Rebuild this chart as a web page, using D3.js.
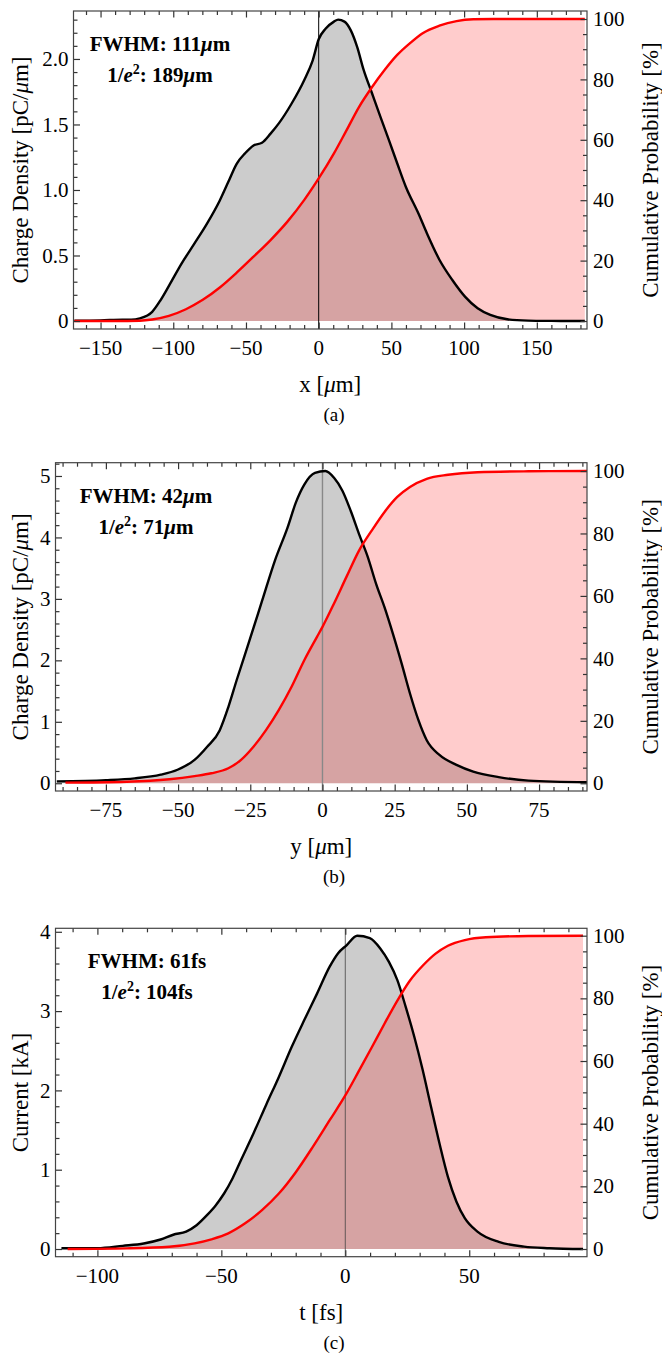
<!DOCTYPE html>
<html><head><meta charset="utf-8">
<script src="https://cdn.jsdelivr.net/npm/d3@7"></script>
<style>body{margin:0;background:#fff;} svg text{font-family:"Liberation Serif","Times New Roman",Times,serif;}</style>
</head><body>
<svg id="chart" width="662" height="1355" font-family="Liberation Serif, Times New Roman, serif"></svg>
<script>
// ---------- DATA ----------
// Panel (a): x [µm]
const aDensX = [-168,-150,-135,-129,-123,-114.5,-108.7,-102.9,-94.2,-85.5,-76.7,-68,-62.2,-56.4,-50.6,-44.8,-39,-33.1,-27.3,-18.6,-9.9,-4.1,0,4.7,10.5,13.4,17.7,22,26.5,30.8,36.6,42.4,48.3,54.1,59.9,68.6,74.4,83.1,91.9,100.6,109.3,118,129.7,144,160,183];
const aDensY = [0.003,0.005,0.01,0.01,0.02,0.07,0.16,0.27,0.44,0.59,0.745,0.92,1.06,1.20,1.28,1.34,1.36,1.43,1.51,1.66,1.84,1.99,2.15,2.23,2.285,2.30,2.285,2.22,2.09,1.92,1.74,1.56,1.38,1.20,1.025,0.82,0.67,0.466,0.313,0.186,0.097,0.046,0.013,0.003,0.001,0];
const aCdfX = [-168,-140,-123,-114.5,-103,-91.3,-79.7,-68,-56.4,-44.8,-33.1,-21.5,-9.9,0,10.5,19.2,27.9,36.6,45.3,54,62.8,71.5,83,94.8,106.4,120,183];
const aCdfY = [0,0,0.1,0.5,1.7,3.9,7.0,11.1,16.0,21.3,26.8,32.9,40.1,47.2,55.5,63.2,71,77.4,83.1,88.1,92,95.3,97.8,99.3,99.9,100,100];
const aXTicks = [-150,-100,-50,0,50,100,150];
const aXTickLabels = ["\u2212150","\u2212100","\u221250","0","50","100","150"];
const aYTicks = [0,0.5,1,1.5,2];
const aYTickLabels = ["0","0.5","1.0","1.5","2.0"];

// Panel (b): y [µm]
const bDensX = [-92,-75,-65,-56,-50.2,-44.3,-40,-35.6,-32.6,-29.7,-25.3,-20.9,-16.5,-12.1,-9.2,-6.3,-2.6,1,4,6.9,9.8,12.7,15.7,18.6,21.5,24.4,27.4,30.3,33.2,36.1,40.5,46.4,52.2,61,71.3,91.6];
const bDensY = [0.03,0.05,0.08,0.14,0.22,0.38,0.59,0.86,1.24,1.68,2.32,2.97,3.62,4.16,4.57,4.86,5.05,5.08,4.97,4.76,4.43,4.05,3.68,3.24,2.86,2.43,1.95,1.46,1.03,0.70,0.46,0.30,0.19,0.10,0.043,0.016];
const bCdfX = [-89,-67.8,-53,-44.3,-38.5,-32.6,-28.2,-23.9,-19.5,-15.1,-10.7,-6.3,-1.9,0,4,8.3,12.7,17.1,21.5,25.9,30.3,36.1,43.5,53.7,71.3,91.6];
const bCdfY = [0.2,0.5,1.3,2.3,3.2,4.8,7.5,11.7,17.1,23.5,30.9,39.4,46.9,50.1,57.6,66.1,74.6,81,86.9,91.7,94.9,97.5,98.8,99.6,99.9,100];
const bXTicks = [-75,-50,-25,0,25,50,75];
const bXTickLabels = ["\u221275","\u221250","\u221225","0","25","50","75"];
const bYTicks = [0,1,2,3,4,5];
const bYTickLabels = ["0","1","2","3","4","5"];

// Panel (c): t [fs]
const cDensX = [-114.5,-100,-89.8,-81.3,-74.5,-69.4,-64.2,-60,-55.7,-52.3,-48.9,-45.5,-42.1,-37,-31.9,-26.8,-21.6,-16.5,-11.4,-6.3,-2.9,0.5,4.8,9.9,14.1,17.6,21,24.4,27.8,31.2,34.6,38,41.4,44.8,48.2,53.3,61.9,72.1,82.3,95.9];
const cDensY = [0.01,0.01,0.04,0.07,0.12,0.18,0.22,0.30,0.43,0.55,0.70,0.89,1.12,1.46,1.82,2.17,2.55,2.89,3.22,3.56,3.73,3.83,3.95,3.92,3.79,3.62,3.39,3.05,2.68,2.26,1.79,1.33,0.91,0.60,0.39,0.22,0.09,0.03,0.01,0];
const cCdfX = [-112,-88,-71,-60.8,-54,-47.2,-40.4,-33.6,-26.8,-19.9,-13.1,-6.3,0,5.6,10.7,15.8,21,26.1,31.2,36.3,41.4,48.2,56.7,73.8,95.9];
const cCdfY = [0,0.2,0.7,1.8,3.1,5,8.2,12.4,17.7,24.6,32.6,41.1,49,57,64.4,71.9,79.3,85.7,90.4,94.2,96.8,98.6,99.5,99.9,100];
const cXTicks = [-100,-50,0,50];
const cXTickLabels = ["\u2212100","\u221250","0","50"];
const cYTicks = [0,1,2,3,4];
const cYTickLabels = ["0","1","2","3","4"];

// Shared right axis
const pTicks = [0,20,40,60,80,100];
const pTickLabels = ["0","20","40","60","80","100"];

// ---------- DRAW ----------
const svg = d3.select("#chart");
const FRAME = "#444";
const MAJ = 6.5, MIN = 4;

function rng(a,b,step){const out=[];for(let v=a;v<=b+1e-9;v+=step)out.push(+v.toFixed(6));return out;}
function styleAxis(sel){
  sel.select(".domain").remove();
  sel.selectAll(".tick line").attr("stroke","#333").attr("stroke-width",1.2);
  sel.selectAll(".tick text").remove();
}

function panel(o){
  const g = svg.append("g");
  const x = d3.scaleLinear().domain(o.xDom).range([o.L,o.R]);
  const y = d3.scaleLinear().domain(o.yDom).range([o.B,o.T]);
  const y2 = d3.scaleLinear().domain(o.pDom).range([o.B,o.T]);
  const cid = "clip"+o.id;
  svg.append("clipPath").attr("id",cid).append("rect")
     .attr("x",o.L).attr("y",o.T).attr("width",o.R-o.L).attr("height",o.B-o.T);
  const pg = g.append("g").attr("clip-path",`url(#${cid})`);
  const dens = o.dx.map((v,i)=>[v,o.dy[i]]);
  const cdf = o.cx.map((v,i)=>[v,o.cy[i]]);
  const curve = d3.curveMonotoneX;
  pg.append("path").datum(dens)
    .attr("d", d3.area().curve(curve).x(d=>x(d[0])).y0(y(0)).y1(d=>y(d[1])))
    .attr("fill","#000").attr("fill-opacity",0.2);
  pg.append("path").datum(cdf)
    .attr("d", d3.area().curve(curve).x(d=>x(d[0])).y0(y2(0)).y1(d=>y2(d[1])))
    .attr("fill","#ff0000").attr("fill-opacity",0.2);
  pg.append("line").attr("x1",x(0)).attr("x2",x(0)).attr("y1",o.T).attr("y2",o.B)
    .attr("stroke",o.zeroColor).attr("stroke-width",o.zeroWidth);
  pg.append("path").datum(dens)
    .attr("d", d3.line().curve(curve).x(d=>x(d[0])).y(d=>y(d[1])))
    .attr("fill","none").attr("stroke","#000").attr("stroke-width",2.4).attr("stroke-linejoin","round");
  pg.append("path").datum(cdf)
    .attr("d", d3.line().curve(curve).x(d=>x(d[0])).y(d=>y2(d[1])))
    .attr("fill","none").attr("stroke","#ff0000").attr("stroke-width",2.4).attr("stroke-linejoin","round");

  const inX = v=>v>=o.xDom[0]&&v<=o.xDom[1];
  const xMin = rng(Math.ceil(o.xDom[0]/o.xMinor)*o.xMinor, o.xDom[1], o.xMinor).filter(inX)
                 .filter(v=>!o.xTicks.some(t=>Math.abs(t-v)<1e-6));
  const yMin = rng(0, o.yDom[1], o.yMinor).filter(v=>!o.yTicks.some(t=>Math.abs(t-v)<1e-6));
  const pMin = rng(0, o.pDom[1], 5).filter(v=>!pTicks.some(t=>Math.abs(t-v)<1e-6));
  const ax = g.append("g").attr("class","frameticks");
  [[o.xTicks,MAJ],[xMin,MIN]].forEach(([vals,len])=>{
    ax.append("g").attr("transform",`translate(0,${o.B})`)
      .call(d3.axisBottom(x).tickValues(vals).tickSizeInner(-len).tickSizeOuter(0).tickFormat("")).call(styleAxis);
    ax.append("g").attr("transform",`translate(0,${o.T})`)
      .call(d3.axisTop(x).tickValues(vals).tickSizeInner(-len).tickSizeOuter(0).tickFormat("")).call(styleAxis);
  });
  [[o.yTicks,MAJ],[yMin,MIN]].forEach(([vals,len])=>{
    ax.append("g").attr("transform",`translate(${o.L},0)`)
      .call(d3.axisLeft(y).tickValues(vals).tickSizeInner(-len).tickSizeOuter(0).tickFormat("")).call(styleAxis);
  });
  [[pTicks,MAJ],[pMin,MIN]].forEach(([vals,len])=>{
    ax.append("g").attr("transform",`translate(${o.R},0)`)
      .call(d3.axisRight(y2).tickValues(vals).tickSizeInner(-len).tickSizeOuter(0).tickFormat("")).call(styleAxis);
  });
  g.append("rect").attr("x",o.L).attr("y",o.T).attr("width",o.R-o.L).attr("height",o.B-o.T)
    .attr("fill","none").attr("stroke",FRAME).attr("stroke-width",1.2);

  const FS = 21;
  o.xTicks.forEach((v,i)=>{
    g.append("text").attr("x",x(v)).attr("y",o.B+26).attr("text-anchor","middle")
      .attr("font-size",FS).text(o.xTickLabels[i]);
  });
  o.yTicks.forEach((v,i)=>{
    g.append("text").attr("x",o.L-5).attr("y",y(v)).attr("dy","0.34em").attr("text-anchor","end")
      .attr("font-size",FS).text(o.yTickLabels[i]);
  });
  pTicks.forEach((v,i)=>{
    g.append("text").attr("x",o.R+6).attr("y",y2(v)).attr("dy","0.34em").attr("text-anchor","start")
      .attr("font-size",FS).text(pTickLabels[i]);
  });
  const TS = 23;
  const xt = g.append("text").attr("x",(o.L+o.R)/2).attr("y",o.B+63).attr("text-anchor","middle").attr("font-size",TS);
  o.xTitle.forEach(s=>xt.append("tspan").attr("font-style",s[1]?"italic":"normal").text(s[0]));
  const cy = (o.T+o.B)/2;
  const yt = g.append("text").attr("transform",`translate(28,${cy}) rotate(-90)`).attr("text-anchor","middle").attr("font-size",TS);
  o.yTitle.forEach(s=>yt.append("tspan").attr("font-style",s[1]?"italic":"normal").text(s[0]));
  g.append("text").attr("transform",`translate(658,${cy}) rotate(-90)`).attr("text-anchor","middle")
    .attr("font-size",TS).text("Cumulative Probability [%]");
  g.append("text").attr("x",334).attr("y",o.B+92).attr("text-anchor","middle").attr("font-size",19).text(o.caption);
  const AS = 21;
  const t1 = g.append("text").attr("x",o.annX).attr("y",o.annY).attr("text-anchor","middle")
    .attr("font-size",AS).attr("font-weight","bold");
  t1.append("tspan").text("FWHM: "+o.fwhm);
  if(o.unitMu){t1.append("tspan").attr("font-style","italic").text("\u03bc");t1.append("tspan").text("m");}
  else t1.append("tspan").text("fs");
  const t2 = g.append("text").attr("x",o.annX).attr("y",o.annY+31).attr("text-anchor","middle")
    .attr("font-size",AS).attr("font-weight","bold");
  t2.append("tspan").text("1/");
  t2.append("tspan").attr("font-style","italic").text("e");
  t2.append("tspan").attr("font-size",14).attr("dy",-8).text("2");
  t2.append("tspan").attr("dy",8).text(": "+o.e2);
  if(o.unitMu){t2.append("tspan").attr("font-style","italic").text("\u03bc");t2.append("tspan").text("m");}
  else t2.append("tspan").text("fs");
}

panel({id:"a",L:73.5,R:587,T:11,B:329,xDom:[-168.6,184.5],yDom:[-0.061,2.366],pDom:[-2.65,102.65],
  dx:aDensX,dy:aDensY,cx:aCdfX,cy:aCdfY,xTicks:aXTicks,xTickLabels:aXTickLabels,yTicks:aYTicks,yTickLabels:aYTickLabels,
  xMinor:10,yMinor:0.1,zeroColor:"#000",zeroWidth:1,
  xTitle:[["x [",0],["\u03bc",1],["m]",0]],yTitle:[["Charge Density [pC/",0],["\u03bc",1],["m]",0]],
  caption:"(a)",annX:160,annY:51,fwhm:"111",e2:"189",unitMu:true});
panel({id:"b",L:55.5,R:587,T:462.7,B:791,xDom:[-92.45,91.6],yDom:[-0.126,5.216],pDom:[-2.47,102.66],
  dx:bDensX,dy:bDensY,cx:bCdfX,cy:bCdfY,xTicks:bXTicks,xTickLabels:bXTickLabels,yTicks:bYTicks,yTickLabels:bYTickLabels,
  xMinor:5,yMinor:0.2,zeroColor:"#888",zeroWidth:1.4,
  xTitle:[["y [",0],["\u03bc",1],["m]",0]],yTitle:[["Charge Density [pC/",0],["\u03bc",1],["m]",0]],
  caption:"(b)",annX:146,annY:503,fwhm:"42",e2:"71",unitMu:true});
panel({id:"c",L:55.5,R:587,T:928.3,B:1256.7,xDom:[-116.9,97.5],yDom:[-0.097,4.044],pDom:[-2.46,102.36],
  dx:cDensX,dy:cDensY,cx:cCdfX,cy:cCdfY,xTicks:cXTicks,xTickLabels:cXTickLabels,yTicks:cYTicks,yTickLabels:cYTickLabels,
  xMinor:10,yMinor:0.2,zeroColor:"#444",zeroWidth:0.8,
  xTitle:[["t [fs]",0]],yTitle:[["Current [kA]",0]],
  caption:"(c)",annX:147,annY:968,fwhm:"61",e2:"104",unitMu:false});
</script>
</body></html>
